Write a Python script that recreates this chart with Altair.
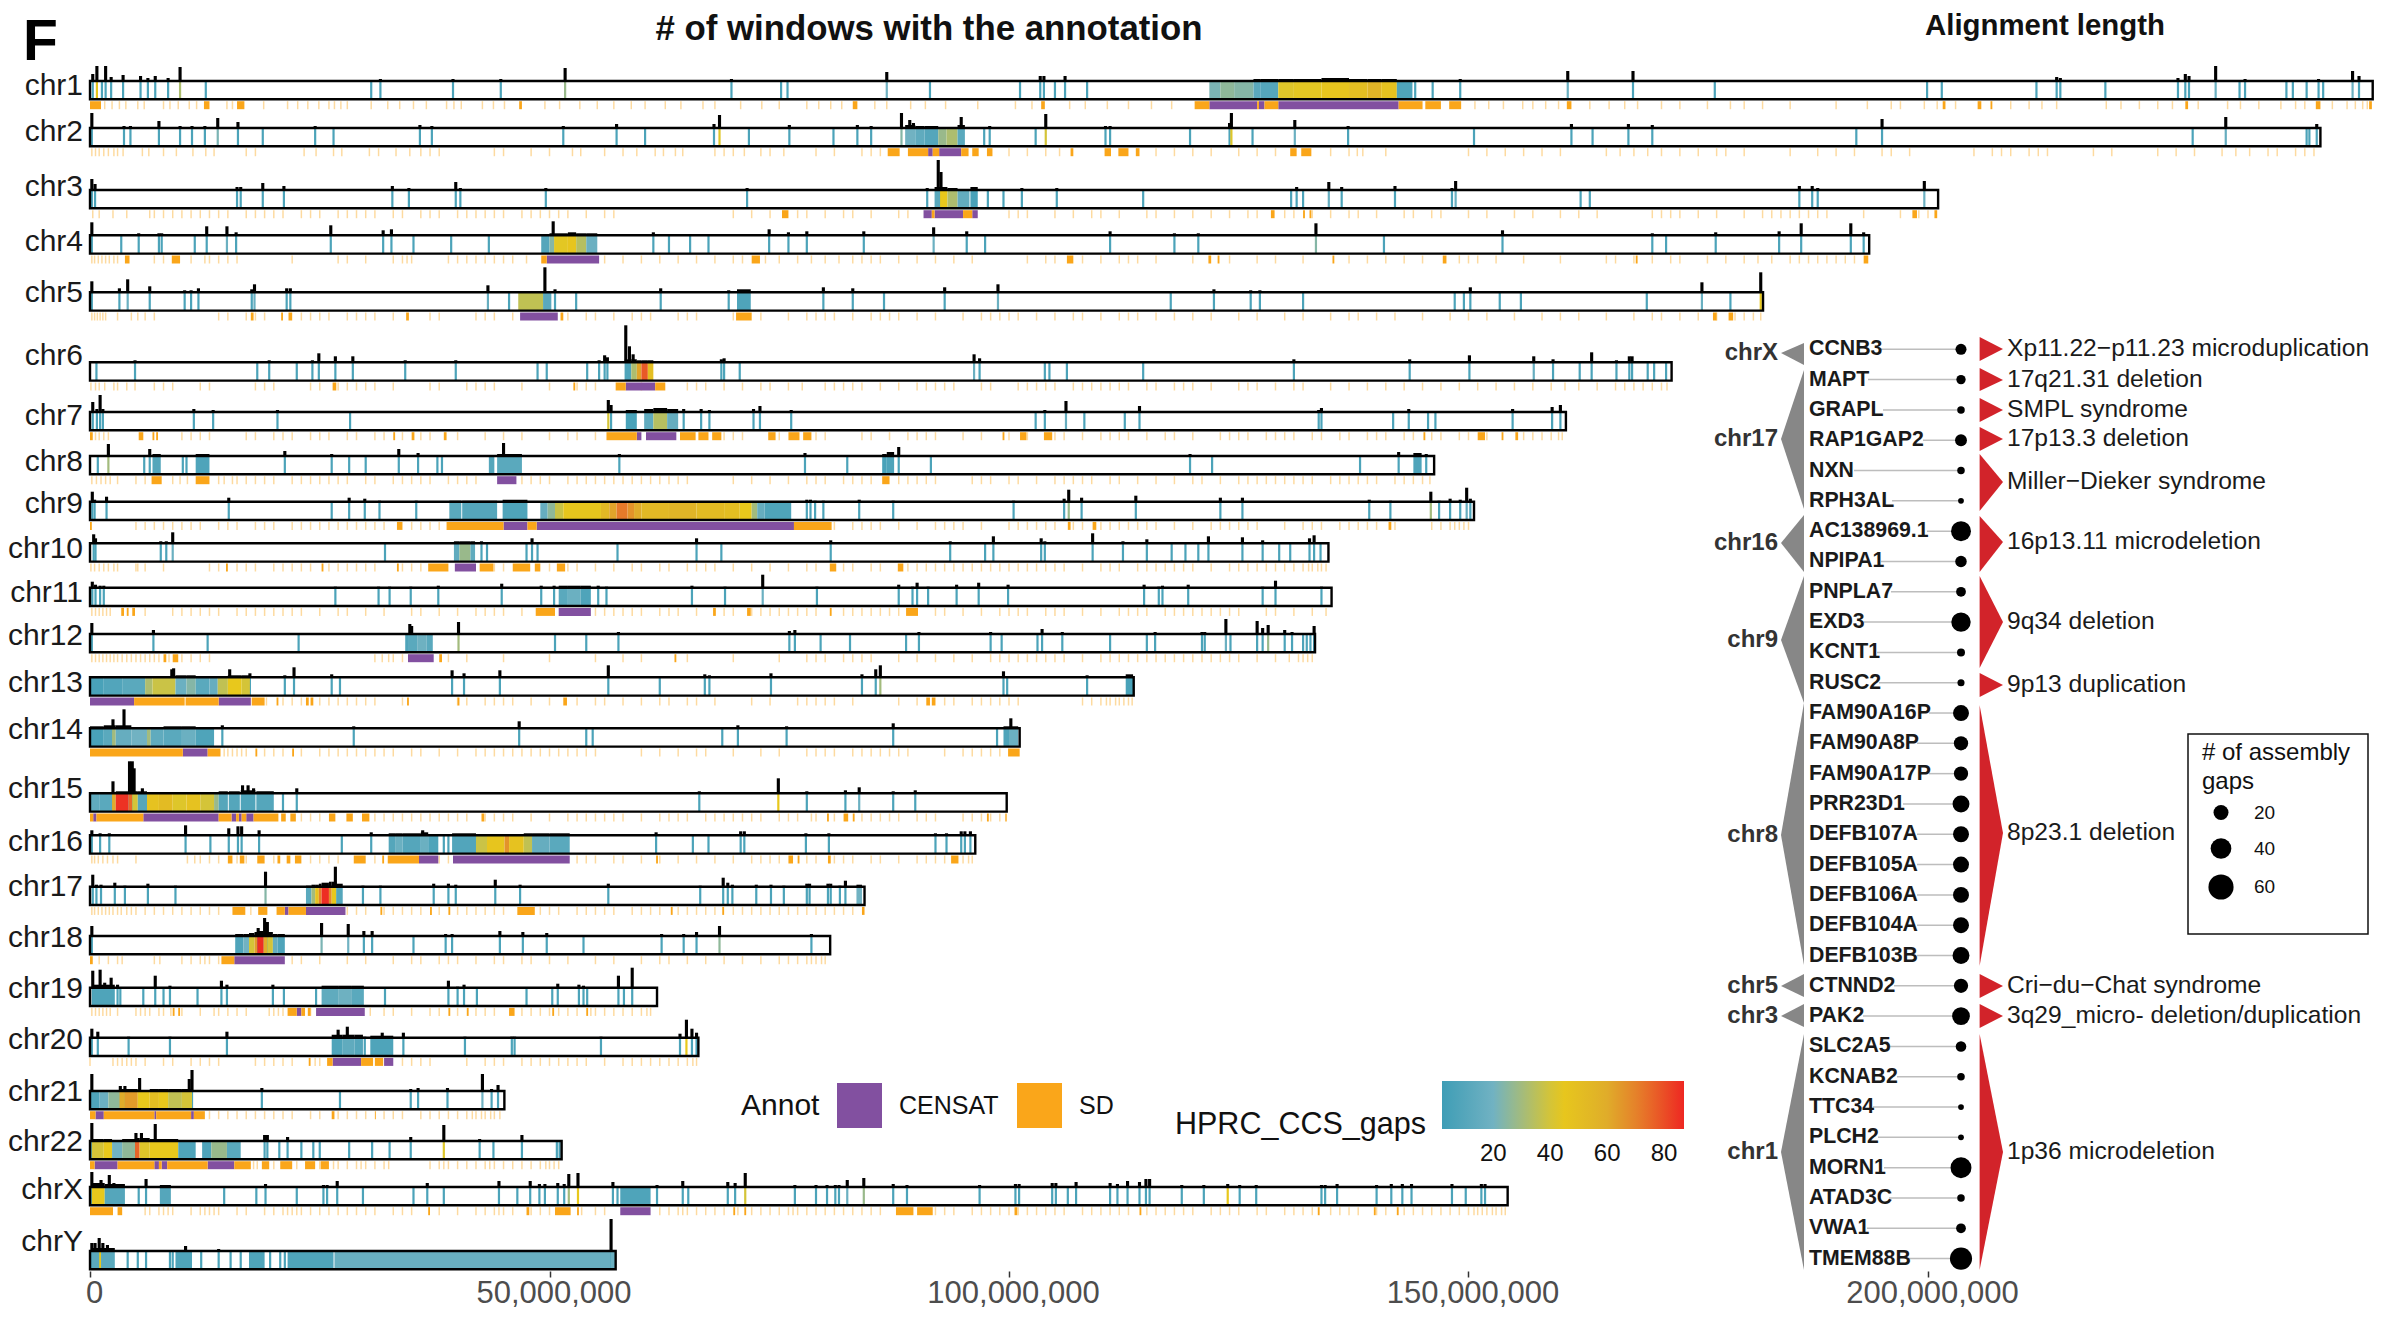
import altair as alt
import pandas as pd

FONT = "Liberation Sans"

chrom_names = ["chr1","chr2","chr3","chr4","chr5","chr6","chr7","chr8","chr9","chr10","chr11","chr12",
               "chr13","chr14","chr15","chr16","chr17","chr18","chr19","chr20","chr21","chr22","chrX","chrY"]
chrom_lengths_mb = [248.39,242.7,201.1,193.6,182.05,172.1,160.6,146.26,150.6,134.76,135.1,133.3,
                    113.57,101.16,99.75,96.33,84.28,80.54,61.7,66.2,45.09,51.32,154.26,57.2]
# (pos Mb, bar height, optional gap value)
chr1_gaps = [(0.3,7),(0.75,15,45),(1.3,0),(1.7,15),(2.3,4),(3.6,6),(5.5,5),(6.3,3),(7.1,5),(8.5,3),(9.8,14,32),(12.6,1),(30.6,0),(31.6,2),(39.5,2),(44.7,2),(51.7,13,28),(69.8,2),(75.2,1),(75.9,1),(86.7,9,20),(91.4,1),(101.2,1),(103.4,5),(103.8,5),(105,1),(106.1,5),(108.5,1),(144.2,1),(146.1,1),(149.1,2),(160.8,10,18),(167.9,10),(176.8,1),(199.9,1),(201.5,1),(211.8,1),(214,4),(214.4,3),(219.3,1),(227.2,3),(228,7),(228.4,5),(231.3,15,18),(233.9,1),(234.5,2),(239,1),(239.7,1),(241.2,1),(242.5,2),(243,1),(246.2,10,18),(246.9,5)]
chr1_blocks = [(121.8,123,22,1),(123,124.5,26,1),(124.5,126.6,24,1),(126.6,127.4,12,2),(127.4,129.3,10,2),(129.3,131,42,2),(131,134,43,2),(134,137,46,3),(137,139,50,2),(139,140.5,56,2),(140.5,142.2,48,2),(142.2,143.9,8,1)]
chr1_censat = [(121.8,127),(127.2,127.8),(129.3,142.4)]
chr1_sd = [(0,1.2),(12.4,13),(16,16.8),(46.7,47),(83,83.5),(103.5,103.9),(120.2,121.8),(127,127.2),(127.8,129.3),(142.4,145),(145.3,147),(147.9,149.2),(160.7,161.2),(201.6,201.9),(205.4,205.8),(206.8,207),(228,228.3),(242.2,242.7),(248,248.3)]
chr1_pale = [1.6,2.4,3.2,3.9,5.2,5.9,8,8.7,9.6,10.8,11.6,14.9,15.5,18.9,21.5,22.6,23.7,24.9,26,26.6,27.3,28,30.6,32.4,33.7,35.2,36.6,38.8,39.6,40.4,42.7,43.9,45.1,49.5,51.1,53.3,55.2,57,58.9,60.4,62.6,64.3,66.7,68,70.8,73.1,75,78,79.3,80.6,81.8,85.4,86.7,89.3,90.9,93.1,96.6,100.7,102.5,106.6,108.3,110.7,113,115.5,117.7,150.7,152.2,153.8,155.9,157,158.4,159.8,163.2,165.3,167,168.4,171,173,176,178.5,180,182,185,190,193.4,196,197,199.6,201,203,209,211,212.4,214,219.4,221,223,225,226.6,229.4,232.6,234,236,238.4,240,241,244,245.6,246.5,247.3,247.8]
chr2_gaps = [(0.2,15),(3.7,2),(4.4,2),(7.5,7),(9.8,2),(11.1,2),(12.5,2),(13.9,10,22),(16.1,6),(18.8,1),(24.5,2),(26.5,1),(35.9,3),(37.2,2),(51.5,2),(57.3,4),(60.4,1),(67.9,4),(68.5,13,42),(71.7,1),(76.1,3),(80.9,1),(83.5,3),(85,2),(88.3,15,24),(89.2,8),(89.6,5),(94.8,11),(97.3,1),(97.9,2),(102.9,1),(104,14,40),(110.5,2),(111,2),(119.7,1),(124,5),(124.2,15,42),(126.5,1),(131.1,8,18),(136.9,2),(150.6,1),(161.2,4),(163.5,1),(167.4,4),(170,3),(192.2,1),(195,9),(228.8,1),(232.4,11,16),(241.2,1),(241.5,1),(242.3,4)]
chr2_blocks = [(88.7,89.8,20,3),(89.8,90.8,14,2),(90.8,92.3,10,2),(92.3,93.2,28,1),(93.2,94.4,32,1),(94.4,95.2,12,3)]
chr2_censat = [(91.2,91.7),(92.4,94.8)]
chr2_sd = [(86.8,88.1),(89,91.2),(91.7,92.4),(94.8,95.6),(96,96.7),(97.6,98.2),(106.7,107),(110.4,111.1),(111.9,113),(113.8,114.2),(130.6,131.3),(131.8,132.9)]
chr2_pale = [0.2,0.6,1,1.5,2,2.6,3,3.6,5.7,6.4,8,9.4,11.2,12.6,13.5,17,18,23.3,24.6,26.5,27.4,30.4,31.4,33.3,34.8,36,37,38,44,45,48,50,52.5,53.4,56,58,59.5,61.5,62.4,63.7,64.5,68,69,70,71.2,73,74,75.5,79,81,84,85,86,100,102,104,105.5,116,118,120,122,125,127,129,135,137,137.9,138.5,141,150,152,154,156,158,160,165,166.5,168,169.5,171,173,175,177,178,180,185,188,190,192,195,196,198,205,207,208,209,211,212,213,218,220,225,227,229,232,233.5,235,237,238,240,241,242]
chr3_gaps = [(0.2,11),(0.55,6),(16,3),(16.4,3),(18.8,7),(21.1,4),(32.9,4),(34.7,2),(39.8,8),(40.3,2),(49.6,2),(71.5,2),(91.1,2),(92.3,30),(92.6,18),(97.7,1),(99.4,1),(101.4,2),(105.2,2),(114.6,1),(130.7,1),(131.3,3),(132,1),(134.8,8,16),(136.2,3),(142,4),(148.2,2),(148.6,9,18),(162.2,1),(163.2,1),(186,4),(187.4,4),(188,2),(199.6,9,18)]
chr3_blocks = [(91.9,92.5,12,3),(92.5,93.3,44,3),(93.3,94.4,32,2),(94.4,95.7,15,1),(95.8,96.6,6,3)]
chr3_censat = [(90.7,91.6),(91.9,95),(96,96.6)]
chr3_sd = [(91.6,91.9),(95,96),(75.3,76),(128.5,128.9),(132,132.2),(132.7,132.9),(198.3,198.8),(200.7,201)]
chr3_pale = [0.3,1,2.5,4,6.5,7,8,9,10,11,12,13,14,15,17,18,19,20,21,23,24,25,27,28,29,30,31,33,34,36,37,38,40,41,42,43,44,45,47,48,49,50,51,52,54,56,57,70,72,74,77,78,80,82,83,85,88,89,100,101,102,105,107,109,110,112,115,116,118,120,122,124,126,127,130,131,133,135,137,138,140,143,144,146,147,150,152,155,157,160,162,164,170,171,172,173,175,177,180,182,183,184,185,186,187,188,189,193,197,199,200]
chr4_gaps = [(0.2,13),(3.4,1),(5.3,2),(7.5,2),(7.8,2),(11.4,1),(12.7,9),(14.9,9,18),(15.9,3),(26.2,10),(31.9,5),(32.8,6),(35.2,1),(39.3,1),(43.4,1),(50.4,14),(61.3,3),(63,1),(65.3,1),(67.3,1),(73.9,6),(76,3),(78,4),(84.2,4),(91.8,8,18),(95.4,4),(97.4,1),(111,4),(118,2),(120.6,2),(133.4,12,24),(140.8,1),(153.7,5),(170,2),(171.5,1),(176.9,3),(183.8,4),(186.2,12),(191.6,12),(193,3)]
chr4_blocks = [(49.1,50,10,1),(50,50.5,24,2),(50.5,52,43,2),(52,52.9,46,3),(52.9,54,34,2),(54,55.2,18,2)]
chr4_censat = [(49.7,55.4)]
chr4_sd = [(3.8,4.3),(8.9,9.8),(49.1,49.7),(72,72.9),(106.3,107),(121.7,122),(122.7,122.9),(135.2,135.4),(147.2,147.6),(168.2,168.4),(193,193.5)]
chr4_pale = [0.2,0.5,0.9,1.3,1.7,2.1,2.6,3,7,8,11,12.5,13,14,15,16,22,27,28,30,33,34,34.5,35,39,40,41,42,43,44,45,46,47.5,56,58,60,62,64,66,68,70,71,73.5,75,77,78.5,80,81.5,83,84,85,86,88,90,92,94,96,102,104,105,108,110,112,113,114,116,120,124,127,129,132,137,139,141,143,145,149,150,151,153,156,160,165,166,168,170,172,173,176,178,180,181.5,183,185,186,187,188,189,190,191,192]
chr5_gaps = [(0.2,11),(3.2,4),(4.1,13,18),(6.5,6),(10.3,2),(11,2),(11.8,4),(17.6,3),(17.9,8,18),(21.4,4),(21.8,4),(43.3,7,16),(45.6,1),(49.5,25),(50.6,3),(52.9,1),(62.1,4),(69.5,2),(79.8,5),(83,4),(86.4,1),(93,5),(98.8,8,18),(117.6,1),(122.3,3),(126.3,2),(127.3,2),(132,1),(148.5,1),(149.5,1),(150.2,5),(153.4,1),(155.7,1),(169.4,1),(175.4,10,17),(178.5,1),(181.8,20,44)]
chr5_blocks = [(46.6,49.3,36,1),(49.3,50.2,12,1),(70.4,71.9,8,3)]
chr5_censat = [(46.8,50.9)]
chr5_sd = [(17.5,17.8),(20.8,21),(21.6,22),(34.4,34.7),(51.2,51.5),(70.3,72),(176.6,177),(178.3,178.8)]
chr5_pale = [0.2,0.5,0.8,1.1,1.4,1.7,3,4.5,5.2,6,7,14,15,17,18,19,23,24,25,26,28,29,30,31,33,37,38,42,43,44,46,52,54,55,57,59,60,61,64,65,66,70,73,76,78,79,80,81,83,85,86,87,88,90,92,95,97,98,99,100,101,103,105,107,108,110,112,113,114,116,118,120,122,125,127,130,132,135,137,138,140,142,145,148,150,152,155,158,160,162,165,168,170,171,173,175,177,179,180,181,181.8]
chr6_gaps = [(0.7,1),(4.9,2),(18.2,1),(19.5,2),(22.5,1),(24.2,2),(24.9,9),(26.7,6),(28.6,6),(34.3,2),(39.8,2),(48.7,1),(49.7,1),(54.1,1),(55.4,2),(56,7),(56.3,5),(58.3,37),(58.7,16),(59.1,8),(68.7,3),(69,4),(70.7,1),(96.2,8,18),(96.8,4),(103.9,1),(104.4,1),(106.3,1),(114.6,1),(131,3),(143.6,3),(150.1,7),(157.1,6,16),(159.2,3),(162.1,1),(163.4,10),(166.1,2),(167.5,6),(167.8,6),(169.5,1),(170.2,1),(171.5,1)]
chr6_blocks = [(58.2,58.9,8,3),(58.9,59.5,32,3),(59.5,60,62,2),(60,60.7,78,2),(60.7,61.3,50,2)]
chr6_censat = [(58.3,61.5)]
chr6_sd = [(26.4,26.8),(52.6,52.8),(57.2,58.3),(61.5,62.6)]
chr6_pale = [0.1,0.6,1,1.6,2.6,3,4,4.9,7,8,9,12,13,18,19,20,24,25,27,28,29,30,31,33,37,38,41,42,43,44,47,50,53,54,55,60,65,66,67,69,71,73,74,76,77.5,80,81,82,83,84,86,88,90,91,92,93,94,97,98,101,102,103,104,105,107,108,109,110,111,112,113,115,116,118,119,120,122,125,126,127,129,131,132,135,137,139,141,143,145,147,149,151,153,155,157,159,160.5,162,164,166,167,168,169,170,171,171.6]
chr7_gaps = [(0.3,10),(0.75,3),(1.1,17),(1.4,3),(11.3,3),(13.4,2),(20.4,2),(28.3,1),(56.4,12,40),(56.7,7),(64.6,3),(66.5,3),(67.4,2),(72.2,3),(72.9,6),(76.3,2),(102.9,1),(103.9,2),(106.2,11,16),(108.2,1),(112.6,1),(114.2,6),(133.7,2),(134,4),(141.8,1),(143.5,3),(145.6,1),(146.4,1),(154.8,3),(159.1,5),(160,7)]
chr7_blocks = [(58.3,59.5,6,2),(60.3,61.3,14,3),(61.3,62.8,34,4),(62.8,64,16,3)]
chr7_censat = [(59.5,60),(60.5,63.8)]
chr7_sd = [(0,0.3),(5.3,5.8),(6.8,7),(7.2,7.4),(33,33.2),(35,35.3),(38.5,38.8),(56.2,59.5),(64.2,65.9),(66.2,67.3),(67.7,68.7),(73.8,74.6),(76,77.2),(77.6,78.5),(99.3,99.5),(101.2,101.9),(103.8,104.7),(145.1,145.3),(151,151.8),(153.6,153.8),(155.1,155.4)]
chr7_pale = [0.6,1,1.5,2,10,11,12,13,17,18,20,21,22,24,25,26,28,29,31,32,34,36,37,40,43,45,47,50,52,53,55,69,70,71,75,79,80,84,85,87,89,90,91,92,95,97,100,102,105,106,108,110,111,112,113,115,117,118,120,123,124,125,126,128,129,130,131,133,134,136,137,139,140,141,143,144,146,147,149,150,152,156,157,158,159,159.8,160.2]
chr8_gaps = [(0.85,1),(2,12,30),(5.9,1),(6.5,7),(10.1,1),(10.5,1),(21.2,5),(26.3,2),(28.2,1),(30,1),(33.6,7),(35.7,3),(37.8,1),(38.3,1),(45,13),(57.6,2),(77.8,3),(82.4,1),(88,9),(91.5,1),(119.7,2),(122.1,1),(138.2,1),(142.4,4),(145.4,2)]
chr8_blocks = [(6.8,7.7,10,2),(11.5,13,8,2),(43.4,44,10,1),(44.3,47,12,2),(86.2,86.7,6,2),(86.7,87.5,8,4),(144,144.9,8,3)]
chr8_censat = [(44.3,46.4)]
chr8_sd = [(6.7,7.8),(11.5,13),(86.2,87)]
chr8_pale = [0.2,0.7,1.2,1.7,2.2,3,5,6,9,9.8,10.6,14,14.6,15.5,16,17,18,19,20,22,23,24,25,26,27,28,30,31,33,34,35,36,37,39,40,41,42,47,48,49,50,52,53,54,55,56,57,58,59,60,61,62,63,64,65,70,72,74,76,78,79,80,82,83,84,85,88,89,90,91,92,96,97,98,100,101,103,105,106,107,108,109,111,112,114,116,118,120,121,123,125,126,127,128,129,130,131,132,133,135,136,137,138,139,140,142,143,144,145,145.8]
chr9_gaps = [(0.25,10),(0.5,2),(1.8,5),(15.1,4),(26.3,0),(28.2,4),(29.9,3),(31.5,1),(35.5,1),(78,2),(78.4,2),(78.9,1),(79.8,1),(83.7,2),(87.4,1),(100.5,1),(106,3),(106.5,12,28),(107.9,4),(113.8,6),(123,4),(125.4,4),(139.2,2),(141.5,1),(145.9,10,30),(146.8,1),(148,3),(149.1,2),(149.8,14,16),(150.2,3)]
chr9_blocks = [(39.1,40.4,12,1),(40.5,44.3,10,1),(44.9,47.6,8,2),(49,49.8,16,0),(49.8,50.6,26,0),(50.6,51.5,38,0),(51.5,55.6,45,0),(55.6,56.5,54,0),(56.5,57.3,62,0),(57.3,58.5,72,0),(58.5,59.2,66,0),(59.2,60,60,0),(60,63,54,0),(63,66,56,0),(66,69,52,0),(69,70.7,50,0),(70.7,72,44,0),(72,72.6,30,0),(72.6,73.4,16,0),(73.4,76.3,8,0)]
chr9_censat = [(45,47.6),(48.6,76.6)]
chr9_sd = [(0,0.2),(33.4,34),(38.8,45),(47.6,48.6),(76.6,80.7),(106.4,106.7),(109.1,109.5),(141.3,141.6)]
chr9_pale = [5,6,7,8,9,10,11,12,14,15,16,18,19,20,22,23,24,25,26,27,28,29,30,31,32,35,36,37,38,81,83,84,85,86,88,90,92,93,94,95,97,100,101,102,103,104,105,107,108,110,111,112,113,114,115,116,118,120,122,123,124,125,126,127,130,132,133,134,136,137,138,139,140,142,146,147,148,148.5,149,149.5,150]
chr10_gaps = [(0.4,9),(0.6,5),(7.7,2),(8.3,2),(9,11,18),(32.1,1),(42.6,2),(43.2,1),(47.5,1),(48.1,5),(48.7,1),(57.4,1),(66,5),(68.7,1),(80.6,3),(93.6,2),(97.4,1),(98.3,7),(103.5,5),(103.9,2),(109.1,10),(112.4,2),(115,4),(117.7,1),(119.2,1),(120.6,1),(121.7,7),(125.4,6),(127.6,3),(129.4,1),(130.6,1),(132.7,5),(133.2,8),(133.9,1)]
chr10_blocks = [(39.6,40.2,14,2),(40.2,41.4,28,2),(41.4,41.9,14,2)]
chr10_censat = [(39.7,42)]
chr10_sd = [(14.8,15),(36.8,39),(42.4,43.9),(46,47.9),(48.4,49),(50.8,51.7),(80.5,81.2),(87.9,88.5),(25.2,25.4),(33.4,33.6)]
chr10_pale = [0.1,0.5,1,1.5,2,2.6,3,5,5.2,6,8,13,14,16,17,18,20,21,22,23,24,26,27,28,29,30,31,34,35,36,44,45,50,52,53,55,57,59,60,62,63,65,66,67,68,70,72,74,76,78,79,82,83,85,86,89,90,91,92,93,94,95,96,97,98,99,100,101,102,103,104,105,106,108,110,111,112,114,115,116,117,118,119,120,122,124,125,126,127,128,129,130,131,132,132.6,133,133.6,134,134.5]
chr11_gaps = [(0.25,6),(0.6,3),(1.1,2),(1.5,2),(26.7,1),(31.4,1),(32.6,1),(34.9,1),(37.9,2),(44.8,4),(49.1,2),(50.5,2),(55.3,2),(56.2,1),(65.5,2),(69.1,1),(73.2,13,18),(79.1,1),(88,3),(89.5,1),(90,5),(91.2,1),(94.3,3),(96.7,5),(99.9,3),(114.7,3),(116.3,1),(116.7,2),(119.5,3),(127.6,1),(129,7),(134,1)]
chr11_blocks = [(51,52,12,2),(52,53.4,18,2),(53.4,54.5,8,2)]
chr11_censat = [(51,54.5)]
chr11_sd = [(3.4,3.7),(4,4.2),(4.6,4.9),(48.5,50.6),(67.8,68.1),(71.5,71.9),(80.5,80.7),(88.8,90.1)]
chr11_pale = [0.2,0.6,1,1.4,1.8,2.2,6,9,10,11,12,13,14,16,17,18,19,20,21,22,23,25,27,28,30,32,35,36,38,40,42,43,44,45,47,55,56,57,58,59,60,62,63,64,66,69,70,72,73,74,75,76,77,78,79,82,83,84,85,86,87,88,92,93,95,97,99,100,101,102,104,105,106,108,110,112,113,114,115,117,118,119,120,121,122,123,124,125,128,129,131,133,134.5]
chr12_gaps = [(0.2,11),(6.9,4),(12.8,1),(22.7,1),(34.8,10),(35,8),(40.1,12,30),(50.6,1),(54,1),(57.5,2),(76.1,3),(76.7,4),(79.5,1),(82.7,1),(88.8,1),(90.2,2),(98,2),(99.2,1),(103.1,1),(103.6,5),(105.8,2),(111,1),(115,1),(115.9,2),(121,2),(121.3,2),(123.6,15,18),(124.1,1),(127,13),(127.6,6),(128.2,9,28),(130,4),(130.8,2),(132,1),(132.4,1),(132.8,1),(133.2,8)]
chr12_blocks = [(34.3,34.7,8,1),(34.7,35.6,12,0),(35.6,36.6,19,0),(36.6,37.3,12,0)]
chr12_censat = [(34.6,37.4)]
chr12_sd = [(8,8.3),(9,9.6),(38,38.3),(63.6,63.8)]
chr12_pale = [0.2,0.6,1,1.4,1.8,2.2,2.6,3,3.5,4,4.5,5,5.5,6,6.5,7,7.5,8.6,10,11,12,13,31,31.8,32.5,33,34,39,41,45,50,55,58,60,65,70,75,78,79,80,82,83,84,85,88,90,92,94,96,98,99,100,101,102,103,104,105,106,108,110,111,112,113,114,115,116,117,118,119,120,121,122,123,124,125,127,129,130.5,131.5,132,132.5,133]
chr13_gaps = [(9.1,9),(8.9,8),(15.2,8),(17.4,4),(21.2,2),(22.2,10),(26.3,3),(27.2,1),(39.4,7),(40.7,4),(44.6,7),(56.4,12),(62,1),(66.9,3),(67.4,2),(74.1,4),(84,3),(85.5,8),(86,12,30),(99.4,6),(99.8,1),(108.5,2)]
chr13_blocks = [(0,1.5,6,1),(1.5,3.5,9,1),(3.5,6,12,1),(6,6.8,32,1),(6.8,9.3,38,1),(9.3,10.5,18,2),(10.5,11.5,24,2),(11.5,13,12,1),(13,13.9,16,1),(13.9,15,36,1),(15,16.5,44,2),(16.5,17.4,40,2),(112.7,113.5,6,3)]
chr13_censat = [(0,4.8),(14,17.5)]
chr13_sd = [(4.8,10.3),(10.4,14),(17.6,19),(20.3,20.5),(23.5,23.8),(24,24.3),(34.5,34.7),(40,40.2),(51.5,51.9),(91,91.4),(91.6,92)]
chr13_pale = [19.2,21,22,23,25,26,27,28,29,30,31,34,40,41,43,44,45,46,48,50,53,55,56,58,60,62,63,65,66,68,72,74,77,78,79,80,81,83,88,90,93,94,96,97,98,99,100,101,108,109,110,110.6,111,111.6,112,112.5,113,113.4]
chr14_gaps = [(2.5,9),(3.7,19),(14.4,3),(28.7,2),(46.7,7),(54,1),(54.7,1),(68.8,1),(70.5,3),(75.8,2),(87.4,5),(98.7,1),(100.2,10)]
chr14_blocks = [(0,1.5,6,2),(1.5,2.4,12,3),(2.4,2.8,30,3),(2.8,4.5,16,3),(4.5,6.2,20,1),(6.2,6.6,30,1),(6.6,8,14,1),(8,10,12,2),(10,11.5,18,2),(11.5,13.5,8,1),(99.4,100,8,2),(100,101,18,2)]
chr14_censat = [(10.1,12.8)]
chr14_sd = [(0,10.1),(12.8,14.2),(18,18.2),(22,22.2),(99.9,101.16)]
chr14_pale = [14.6,15,15.5,16,16.5,17,19,20,21,23,25,26,27,28,29,30,31,32,33,35,36,38,40,42,43,44,45,46,47,48,49,50,51,52,53,54,55,60,62,64,66,67,70,73,75,78,79,80,81,83,84,85,86,87,88,89,93,95,96,97,98,99]
chr15_gaps = [(2.5,12),(4.3,32),(4.6,32),(4.8,25),(5.7,5),(16.6,8),(17.2,8),(17.8,5),(21,1),(22.5,5),(66.3,2),(74.9,15,44),(78,2),(83.7,6,18),(82.2,3),(87.4,2),(89.8,3)]
chr15_blocks = [(0,1,14,1),(1,2.4,12,1),(2.4,2.8,60,1),(2.8,4.2,85,2),(4.2,4.6,75,2),(4.6,5.2,40,2),(5.2,6.2,10,2),(6.2,7.5,48,1),(7.5,9,52,1),(9,10.5,42,1),(10.5,12,48,1),(12,13.5,40,1),(13.5,14,28,1),(14,15,10,2),(15.1,16.3,10,2),(16.4,18,8,3),(18.1,20,10,2)]
chr15_censat = [(0.35,0.7),(5.8,14),(15.4,15.9),(16.2,16.5),(17,17.8)]
chr15_sd = [(0,0.35),(0.7,5.8),(14,15.4),(15.9,16.2),(16.5,17),(17.8,20.5),(20.8,21.3),(21.8,22.4),(26,26.7),(27.9,28.6),(29.6,30.4),(42.6,42.9),(82,82.5),(97.6,97.8),(80.2,80.4),(83,83.2),(99.6,99.75)]
chr15_pale = [23,24,25,31,32,33,34,35,36,37,38,39,40,41,43,44,45,46,48,50,52,53,54,55,56,57,58,60,62,63,64,65,67,68,69,70,71,72,73,75,76,77,78.5,79,81,84,85,86,87,88,90,91,92,95,96,97,98,99]
chr16_gaps = [(0.2,5),(1.1,2),(2.1,2),(10.4,10),(13.1,0),(15.1,7),(16.1,9),(16.5,9),(18.4,5),(27.4,1),(30.6,3),(38.5,1),(39,1),(36.2,5),(61.6,3),(65.6,1),(67.3,1),(70.8,4),(71.2,4),(77.9,2),(80.4,2),(92,2),(93.2,2),(94.8,4),(95.2,4),(95.8,4)]
chr16_blocks = [(32.5,33.2,10,2),(33.2,34,18,2),(34,36,10,2),(36,36.8,18,3),(36.8,37.9,8,1),(39.4,42,9,2),(42,43.2,38,1),(43.2,45.1,46,1),(45.1,45.6,66,1),(45.6,47.2,48,1),(47.2,48.1,36,2),(48.1,50,16,2),(50,52.2,12,2)]
chr16_censat = [(35.8,37.9),(39.5,52.2)]
chr16_sd = [(15,15.5),(16.3,16.8),(18.2,19),(20.4,20.7),(21.4,21.8),(22.3,23),(28.7,30),(31.8,32),(32.4,35.8),(61.6,61.8),(76,76.5),(77,77.2),(80.3,80.6),(93.7,94.5)]
chr16_pale = [0.2,0.5,0.9,1.4,1.9,2.5,3,5,10.6,11.4,12,13,14,16,17,20,24,25,26,27,31,38,39,53,54,55,57,58,60,62,64,66,68,70,72,73,74,75,78,79,81,82,83,85,86,88,90,91,92,93,95,95.6,96]
chr17_gaps = [(0.3,12),(0.7,2),(1.2,2),(2.7,4),(3.8,1),(6.3,3),(9.3,1),(19.1,15,24),(26.7,20),(29.7,1),(31.6,1),(37.4,3),(39,3),(39.8,2),(44.1,7),(46.8,2),(56.4,3),(66.4,1),(68.9,9),(69.4,4),(69.9,2),(72.5,2),(74.1,2),(75.5,1),(78,3),(78.3,3),(80.3,3),(80.6,3),(81.6,1),(82.2,6)]
chr17_blocks = [(23.5,24.1,12,1),(24.1,24.5,30,2),(24.5,24.9,48,2),(24.9,25.2,70,3),(25.2,26,86,4),(26,26.3,68,5),(26.3,26.8,44,5),(26.8,27.5,10,3),(83.4,84,20,2)]
chr17_censat = [(21.2,21.6),(23.5,27.8)]
chr17_sd = [(15.5,16.9),(18.3,19.3),(20.3,21.2),(21.6,23.5),(31.6,31.8),(37,37.2),(39,39.2),(46.5,48.4),(63.2,63.4),(68.8,69),(84,84.28)]
chr17_pale = [0.2,0.5,0.9,1.3,1.7,2.1,2.5,3,3.4,4,4.5,5,6,7,8,9,10,11,12,13,14,17.5,28,29,30,32,33,34,35,36,38,40,41,42,43,44,45,49,50,51,53,54,55,56,57,59,60,61,62,64,65,66,67,68,70,71,72,73,74,75,76,77,78,79,80,81,82,83]
chr18_gaps = [(0.2,10),(25.2,13,22),(28.1,12,20),(29.8,5),(30.7,5),(35.2,1),(38.7,2),(39.4,2),(44.6,5),(47.1,4),(49.7,3),(53.7,1),(62.2,2),(64.6,2),(66,4),(68.5,10,26),(78.5,2),(19,18),(19.3,14),(18.3,8)]
chr18_blocks = [(15.8,16.7,8,2),(16.7,17.3,20,2),(17.3,17.9,40,3),(17.9,18.2,64,4),(18.2,18.9,86,5),(18.9,19.3,60,5),(19.3,19.9,40,4),(19.9,20.4,16,2),(20.4,21.2,8,2)]
chr18_censat = [(15.7,21.2)]
chr18_sd = [(0,0.3),(14.3,15.7)]
chr18_pale = [1,2,3,3.5,7,7.6,10,11,12,12.5,13,14,22,23,25,28,30,33,35,36,38,39,40,42,44,45,47,48,50,52,55,57,60,62,63,65,67,69,71,73,75,76,77,78,78.5,79,79.6,80]
chr19_gaps = [(0.3,17),(1.1,18),(1.6,5),(2.3,10),(3,3),(3.3,0),(5.8,0),(7.1,12),(8,0),(8.7,2),(11.7,0),(14.3,7),(14.9,3),(19.9,3),(21.1,0),(24.6,0),(32.1,0),(39,7),(40,1),(40.7,3),(42.1,0),(47.5,0),(50.3,0),(50.9,4),(53.2,3),(53.7,2),(54.1,0),(57.5,12),(58.1,0),(59,20)]
chr19_blocks = [(0.3,2.7,8,3),(25.2,27,14,2),(27,28.5,19,2),(28.5,29.8,12,2)]
chr19_censat = [(24.6,29.9),(22.5,23)]
chr19_sd = [(21.5,22.5),(23,23.4),(23.7,24),(45.6,46.2),(9,9.2),(9.6,9.8),(39,39.2),(41,41.2),(50.3,50.5),(54,54.2)]
chr19_pale = [0.2,0.6,1,1.4,1.8,2.2,3,5,5.5,6,6.5,7.5,8,8.8,10,12,13.5,14,15,16,17,19.5,20,20.5,21,24,30.5,32,33,35,37,38,40,42,43,44,47,48,49,50,51,52,53,54.5,55,56,57,58,59,60,60.6,61]
chr20_gaps = [(0.2,9),(0.85,6),(4.2,1),(8.7,1),(14.9,6),(27,8),(28,11),(29.9,1),(31.8,5),(34.1,5),(40.8,1),(45.9,1),(46.2,1),(55.6,1),(64.2,4),(64.9,18,44),(65.5,9),(66,5)]
chr20_blocks = [(26.3,27.5,8,3),(27.5,28.8,14,3),(28.8,29.7,10,3),(30.5,33,8,2)]
chr20_censat = [(26.4,29.5),(32,33)]
chr20_sd = [(25.8,26.4),(29.5,30.8),(31,31.9),(23.8,24)]
chr20_pale = [0,2.5,3,3.5,4,4.5,5,6,8,9,11,12,13,14,18,19,20,21,22,24.5,25,34,35,36,37,41,43,44,45,47,48,49,50,51,52,53,54,56,58,59,60,61,62,63,64,65,65.6,66]
chr21_gaps = [(0.2,17),(3.3,5),(3.8,5),(5.4,13),(10.8,12),(11.1,21),(18.7,3),(27.2,1),(34.9,2),(35.7,3),(38.9,3),(42.7,17,20),(43.7,2),(44.4,6)]
chr21_blocks = [(0.2,1,8,1),(1,2,18,1),(2,3.2,26,1),(3.2,3.8,60,2),(3.8,5.2,64,2),(5.2,6.5,44,1),(6.5,7.5,50,2),(7.5,8.5,44,2),(8.5,10,36,2),(10,11.1,40,2)]
chr21_censat = [(0.6,1.5),(7,7.2),(11,11.3)]
chr21_sd = [(0,0.6),(1.5,7),(7.2,11),(11.3,12.5),(26.3,26.6),(31,31.1)]
chr21_pale = [13,14,15,16,17,18,19,20,21,22,24,25,27,28,29,30,32,33,34,36,37,38,39,40,41,41.6,42,42.6,43,43.6,44,44.6]
chr22_gaps = [(0.2,18),(5,8),(5.6,8),(7.1,17),(19,6),(19.3,6),(20.6,1),(21.5,4),(23,1),(24.3,1),(25,1),(28.2,1),(30.7,1),(32.6,1),(34.9,4),(38.5,16,42),(42.4,2),(43.9,1),(47,6),(50.8,1),(51.1,1)]
chr22_blocks = [(0.2,1.5,40,2),(1.5,2.4,44,2),(2.4,3.5,20,1),(3.5,4.9,26,2),(4.9,5.4,76,3),(5.4,6.5,42,3),(6.5,9.6,44,2),(9.6,11.5,8,1),(12.2,13.2,8,1),(13.2,14.9,28,1),(14.9,16.4,12,1)]
chr22_censat = [(0.5,3),(7,7.5),(7.8,8.4),(12.8,15.7)]
chr22_sd = [(0,0.5),(3,7),(7.5,7.8),(8.4,12.8),(15.7,17.5),(18.7,19.5),(20.7,22),(23.4,24.5),(25.1,26)]
chr22_pale = [17.8,18.2,20,22.5,25,26.5,27,28,29,29.5,30,31,32,32.5,37,38,38.5,39,40,41,42,43,43.5,44,45,46,47,48,49,49.6,50,50.5,51]
chrX_gaps = [(0.2,15),(1.2,7),(2.1,12),(2.6,4),(3.5,3),(5.3,0),(6.1,8),(14.6,1),(18.1,1),(19.1,3),(22.5,1),(25.4,2),(25.8,2),(26.9,6),(29.7,1),(35.2,1),(36.7,4),(38.5,1),(44.5,6),(46.5,1),(47.9,6),(48.9,3),(49.5,3),(50.9,4),(51.6,3),(52.1,13,30),(53.1,14,44),(56.9,5),(57.4,1),(61.7,2),(64.5,6),(65.1,1),(69.4,5),(70.2,4),(71.3,14,40),(76.7,2),(79,2),(80.2,2),(81.1,2),(81.5,2),(82.4,7,18),(84.2,9,28),(87.4,3),(88.9,2),(96.8,2),(100.7,3),(101.1,3),(104.7,4),(105.1,4),(106.4,1),(107.3,5),(111,4),(111.8,3),(112.9,6),(114.2,5),(114.9,8),(115.3,8),(118.8,2),(121.2,2),(123.8,3,44),(125.1,2),(126.9,2),(134,2),(134.4,2),(135.7,3),(140,2),(141.6,3),(142.8,3),(143.8,3),(148.2,3),(149.7,1),(151.4,3),(151.8,3)]
chrX_blocks = [(0.2,1.6,44,4),(1.6,3.8,10,3),(7.6,8.8,10,2),(57.7,61,8,1)]
chrX_censat = [(57.7,61)]
chrX_sd = [(0,2.5),(3,3.5),(36.8,37),(47.5,47.8),(50.6,52.3),(53,53.2),(70,70.2),(71.2,71.4),(87.7,89.6),(90,91.7),(100.6,100.9),(114.2,114.4),(133.6,133.8),(139.7,139.9),(142.2,142.4)]
chrX_pale = [6,6.5,7.5,8,8.5,9,11,12,12.5,13,13.5,14,16,17,19,20,21,21.5,22,22.5,23,24,25,26,27,28,29,30,31,33,34,35,38,40,42,43,44,44.5,45,46,48,49,50,53.5,55,56,62,63,64,64.5,65,66,67,68,69,70.5,72,73,74,75,76,76.5,77,78,79,80,81,82,83,84,85,86,92,93,94,96,97,98,99,100,101,102,103,104,105,106,108,109,110,111,112,113,115,116,117,118,119,120,122,123,124,125,127,128,130,131,132,133,135,136,137,138,140,141,143,144,145,146,147,148,149,150,150.6,151,151.5,152,152.6,153,153.6,154]
chrY_gaps = [(0.2,8),(0.55,8),(1,13),(1.4,8),(1.9,6),(4.1,0),(5.2,0),(6.1,0),(8.7,1),(9,0),(10.4,5),(12.1,0),(14,2),(15.3,0),(16.4,0),(19.6,1),(20.7,0),(21.2,1),(56.7,32)]
chrY_blocks = [(0.2,1,12,3),(1,1.2,44,3),(1.2,2.7,12,3),(9.3,11.1,8,1),(17.3,19,8,1),(21.5,26.5,8,1),(26.6,56.6,17,0),(56.65,57.2,17,0)]
chrY_censat = []
chrY_sd = []
chrY_pale = []

genes = ["CCNB3","MAPT","GRAPL","RAP1GAP2","NXN","RPH3AL","AC138969.1","NPIPA1","PNPLA7","EXD3","KCNT1","RUSC2",
         "FAM90A16P","FAM90A8P","FAM90A17P","PRR23D1","DEFB107A","DEFB105A","DEFB106A","DEFB104A","DEFB103B",
         "CTNND2","PAK2","SLC2A5","KCNAB2","TTC34","PLCH2","MORN1","ATAD3C","VWA1","TMEM88B"]
gene_gaps = [10,6.5,3.6,12,3.6,1.3,37,11,7.4,35,4.3,3,23,18,18,26,23,23,23,23,26,18,29,9,3.6,1.3,1.3,41,3.6,7.4,46]
gene_line_start = [1880,1868,1883,1923,1854,1892,1927,1881,1891,1864,1877,1879,1929,1917,1929,1903,1917,1917,1917,1917,1917,1894,1863,1889,1897,1873,1878,1884,1889,1867,1909]

# layout (page pixels)
chrom_tops = [81,128,190,235.3,292.3,362.3,412,456,501.7,543.3,587.7,634,677.3,728.3,793.3,835.3,886.7,936,987.7,1037.7,1091,1141,1187,1251]
chrom_label_base = [95,141,196,251,302,365,425,471,513,558,602,645,692,739,798,851,896,947,998,1049,1101,1151,1199,1251]
TRACK_H = 18.3
ANNOT_TOP = 20.2
ANNOT_H = 8

chr_brackets = [("chrX",343,353,365),("chr17",370,439,509),("chr16",515,543,572),("chr9",576,640,703),
                ("chr8",703,835,965),("chr5",974,986,997),("chr3",1004,1016,1027),("chr1",1034,1152,1270)]
syndromes = [("Xp11.22−p11.23 microduplication",337,349,361),("17q21.31 deletion",368,380,391),("SMPL syndrome",398,410,422),
             ("17p13.3 deletion",427,439,451),("Miller−Dieker syndrome",454,482,511),("16p13.11 microdeletion",516,542,572),
             ("9q34 deletion",576,622,668),("9p13 duplication",673,685,697),("8p23.1 deletion",705,833,966),
             ("Cri−du−Chat syndrome",974,986,998),("3q29_micro- deletion/duplication",1004,1016,1028),("1p36 microdeletion",1034,1152,1270)]

W, H = 2366, 1301
K = 9.19


def X(px):
    return (px - 90) / K * 1e6


def Y(px):
    return px - 8


SX = alt.Scale(domain=[X(8), X(8 + W)], nice=False, zero=False)
SY = alt.Scale(domain=[H, 0], nice=False, zero=False)

axis_main = alt.Axis(values=[0, 50000000, 100000000, 150000000, 200000000], format=",d", grid=False, domain=False,
                     offset=-38, tickSize=6, tickColor="#333333", tickWidth=1.5, labelColor="#4d4d4d", labelFontSize=31,
                     labelFont=FONT, labelPadding=1, labelOverlap=False, labelFlush=False, labelOffset=4, title=None)


def ex(f):
    return alt.X(f"{f}:Q", scale=SX, axis=axis_main, title=None)


def ey(f):
    return alt.Y(f"{f}:Q", scale=SY, axis=None, title=None)


rows_heat, rows_bar, rows_annot, rows_pale, rows_box, rows_lab = [], [], [], [], [], []
LINE_W = 0.24
BAR_W = 0.34
for name, length, top, base in zip(chrom_names, chrom_lengths_mb, chrom_tops, chrom_label_base):
    g = globals()
    t = Y(top)
    rows_box.append(dict(x=0, x1=length * 1e6, y=t, y1=t + TRACK_H))
    rows_lab.append(dict(x=X(83), y=Y(base), t=name))
    for item in g[f"{name}_gaps"]:
        pos, bar = item[0], item[1]
        val = item[2] if len(item) > 2 else 7
        rows_heat.append(dict(x=(pos - LINE_W / 2) * 1e6, x1=(pos + LINE_W / 2) * 1e6, y=t, y1=t + TRACK_H, gap=val))
        if bar > 0:
            rows_bar.append(dict(x=(pos - BAR_W / 2) * 1e6, x1=(pos + BAR_W / 2) * 1e6, y=t, y1=t - bar))
    for s, e, val, bar in g[f"{name}_blocks"]:
        rows_heat.append(dict(x=s * 1e6, x1=e * 1e6, y=t, y1=t + TRACK_H, gap=val))
        if bar > 0:
            rows_bar.append(dict(x=s * 1e6, x1=e * 1e6, y=t, y1=t - bar))
    for s, e in g[f"{name}_censat"]:
        rows_annot.append(dict(x=s * 1e6, x1=e * 1e6, y=t + ANNOT_TOP, y1=t + ANNOT_TOP + ANNOT_H, annot="CENSAT"))
    for s, e in g[f"{name}_sd"]:
        rows_annot.append(dict(x=s * 1e6, x1=e * 1e6, y=t + ANNOT_TOP, y1=t + ANNOT_TOP + ANNOT_H, annot="SD"))
    for p in g[f"{name}_pale"]:
        rows_pale.append(dict(x=(p - 0.08) * 1e6, x1=(p + 0.08) * 1e6, y=t + ANNOT_TOP, y1=t + ANNOT_TOP + ANNOT_H))


def rect(rows, **mark):
    return alt.Chart(pd.DataFrame(rows)).mark_rect(**mark)


def pos4():
    return dict(x=ex("x"), x2=alt.X2("x1:Q"), y=ey("y"), y2=alt.Y2("y1:Q"))


def texts(rows, size, weight="normal", color="#1a1a1a", align="left", baseline="middle"):
    return alt.Chart(pd.DataFrame(rows)).mark_text(font=FONT, fontSize=size, fontWeight=weight, color=color,
                                                   align=align, baseline=baseline).encode(
        x=ex("x"), y=ey("y"), text=alt.Text("t:N"))


layer_pale = rect(rows_pale, fill="#faa61a", opacity=0.42).encode(**pos4())
layer_annot = rect(rows_annot).encode(
    **pos4(),
    fill=alt.Fill("annot:N", scale=alt.Scale(domain=["CENSAT", "SD"], range=["#8250a0", "#faa61a"]),
                  legend=alt.Legend(orient="none", legendX=733, legendY=1075, title="Annot",
                                    titleOrient="left", direction="horizontal", columns=2, symbolType="square",
                                    symbolSize=2025, symbolStrokeWidth=0, symbolOpacity=1, labelFontSize=25, titleFontSize=30,
                                    titleFontWeight="normal", titleFont=FONT, labelFont=FONT, titleColor="#111111",
                                    labelColor="#111111", labelOffset=17, columnPadding=18, titlePadding=17)))
layer_heat = rect(rows_heat).encode(
    **pos4(),
    color=alt.Color("gap:Q",
                    scale=alt.Scale(domain=[2, 20, 44, 59, 72, 87], interpolate="rgb",
                                    range=["#3e9db6", "#71b2c2", "#e8c81c", "#dfb02a", "#e67a2a", "#ee2722"]),
                    legend=alt.Legend(orient="none", legendX=1434, legendY=1073, title=None,
                                      direction="horizontal", gradientLength=242, gradientThickness=48, values=[20, 40, 60, 80],
                                      labelFontSize=24, labelFont=FONT, labelColor="#111111", labelOffset=13)))
layer_bars = rect(rows_bar, fill="#000000").encode(**pos4())
layer_box = rect(rows_box, fillOpacity=0, stroke="#000000", strokeWidth=2.4).encode(**pos4())
layer_chr = texts(rows_lab, 30, align="right", baseline="alphabetic")
layer_hprc = texts([dict(x=X(1175), y=Y(1125), t="HPRC_CCS_gaps")], 30.5, color="#111111")

layer_f = texts([dict(x=X(23), y=Y(60), t="F")], 57, weight="bold", color="#000000", baseline="alphabetic")
layer_t1 = texts([dict(x=X(929), y=Y(39.5), t="# of windows with the annotation")], 34.8, weight="bold", color="#111111", align="center", baseline="alphabetic")
layer_t2 = texts([dict(x=X(2045), y=Y(35), t="Alignment length")], 29.4, weight="bold", color="#111111", align="center", baseline="alphabetic")

BR_W = 23
RD_W = 23.4
tri_g = pd.DataFrame([dict(x=X(1804), y=Y(a), p=f"M0,0 L{-BR_W},{m - a} L0,{b - a} Z") for n, a, m, b in chr_brackets])
tri_r = pd.DataFrame([dict(x=X(1979.6), y=Y(a), p=f"M0,0 L{RD_W},{m - a} L0,{b - a} Z") for n, a, m, b in syndromes])


def tri(df, color):
    return alt.Chart(df).mark_point(filled=True, color=color, opacity=1, size=4, strokeWidth=0).encode(
        x=ex("x"), y=ey("y"), shape=alt.Shape("p:N", scale=None, legend=None))


layer_tg = tri(tri_g, "#878787")
layer_tr = tri(tri_r, "#d2232a")
layer_brlab = texts([dict(x=X(1778), y=Y(m), t=n) for n, a, m, b in chr_brackets], 24, weight="bold", color="#333333", align="right")
layer_synlab = texts([dict(x=X(2007), y=Y(m), t=n) for n, a, m, b in syndromes], 24.6)

gene_y = [Y(349.3 + i * 30.31) for i in range(len(genes))]
df_genes = pd.DataFrame(dict(t=genes, y=gene_y, gaps=gene_gaps, x=[X(1809)] * len(genes),
                             xs=[X(p) for p in gene_line_start], xd=[X(1961)] * len(genes)))
layer_conn = alt.Chart(df_genes).mark_rule(color="#bdbdbd", strokeWidth=1.5).encode(x=ex("xs"), x2=alt.X2("xd:Q"), y=ey("y"))
layer_dots = alt.Chart(df_genes).mark_circle(color="#000000", opacity=1).encode(
    x=ex("xd"), y=ey("y"),
    size=alt.Size("gaps:Q", scale=alt.Scale(domain=[0, 100], range=[20, 1040], zero=False),
                  legend=alt.Legend(orient="none", legendX=2194, legendY=733, title=["# of assembly", "gaps"],
                                    values=[20, 40, 60], titleFontSize=24, titleFontWeight="normal", titleFont=FONT,
                                    labelFont=FONT, labelFontSize=19, titleColor="#111111", labelColor="#111111",
                                    symbolStrokeWidth=0, symbolFillColor="#000000", titlePadding=9, labelOffset=20, rowPadding=15,
                                    titleLineHeight=29, symbolOffset=6)))
layer_gene = alt.Chart(df_genes).mark_text(font=FONT, fontSize=21.3, fontWeight="bold", color="#1a1a1a", align="left",
                                           baseline="middle").encode(x=ex("x"), y=ey("y"), text=alt.Text("t:N"))
layer_lbox = rect([dict(x=X(2188), x1=X(2368), y=Y(734), y1=Y(934))], fillOpacity=0, stroke="#111111", strokeWidth=1.5).encode(**pos4())

cb_ticks = [1493, 1550, 1607, 1664]
layer_cb = alt.Chart(pd.DataFrame(
    [dict(x=X(p), y=Y(1081), y1=Y(1090)) for p in cb_ticks] + [dict(x=X(p), y=Y(1120), y1=Y(1129)) for p in cb_ticks]
)).mark_rule(color="#ffffff", strokeWidth=1.2).encode(x=ex("x"), y=ey("y"), y2=alt.Y2("y1:Q"))

chart = alt.layer(
    layer_pale, layer_annot, layer_heat, layer_bars, layer_box, layer_chr, layer_hprc, layer_f, layer_t1, layer_t2,
    layer_tg, layer_tr, layer_brlab, layer_synlab, layer_conn, layer_dots, layer_gene, layer_lbox, layer_cb
).properties(
    width=W, height=H, padding=0, background="#ffffff",
    autosize=alt.AutoSizeParams(type="none", contains="padding")
).configure_view(stroke=None)

chart.save("out.html", embed_options={"renderer": "svg", "actions": False})
